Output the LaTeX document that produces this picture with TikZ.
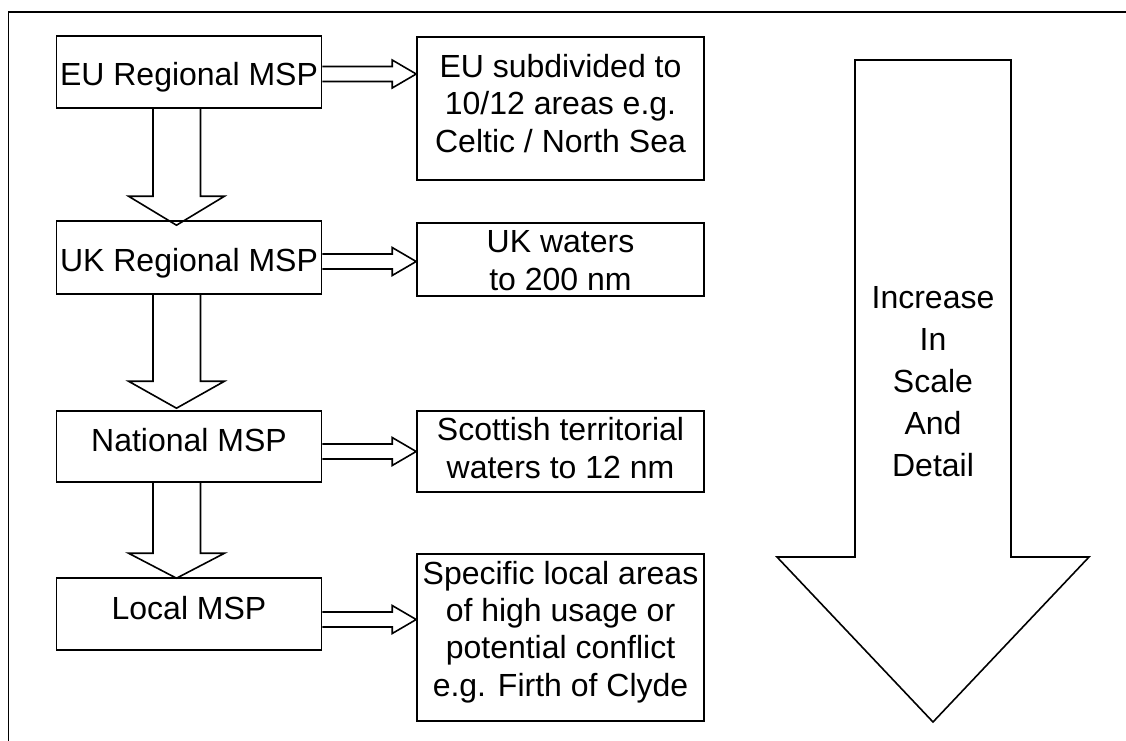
\documentclass[tikz,border=0pt]{standalone}
\usepackage{fontspec}
\setmainfont{Liberation Sans}
\usetikzlibrary{calc}
\newcommand\hblockarrow[3]{%
  \draw[blk] ($(#1.east)+(0,#3-7.5)$) -- ($(#2.west |- #1.east)+(-24,#3-7.5)$)
    -- ($(#2.west |- #1.east)+(-24,#3-14)$) -- ($(#2.west |- #1.east)+(0,#3)$)
    -- ($(#2.west |- #1.east)+(-24,#3+14)$) -- ($(#2.west |- #1.east)+(-24,#3+7.5)$)
    -- ($(#1.east)+(0,#3+7.5)$);}
\newcommand\vblockarrow[4]{%
  \draw[blk] ($(#1.south)+(-36,0)$) -- ($(#2.north)+(-36,#4-#3)$)
    -- ($(#2.north)+(-60.5,#4-#3)$) -- ($(#2.north)+(-12.5,#4)$)
    -- ($(#2.north)+(35.5,#4-#3)$) -- ($(#2.north)+(11.5,#4-#3)$)
    -- ($(#1.south)+(11.5,0)$);}
\begin{document}
\begin{tikzpicture}[x=1pt,y=-1pt,
  lw/.style={line width=1.6pt},
  txt/.style={font=\fontsize{32}{37.3}\selectfont},
  box/.style={draw, lw, align=center, inner sep=0pt, txt},
  lbox/.style={box, minimum width=265pt},
  rbox/.style={box, minimum width=287pt, text depth=0pt},
  blk/.style={draw, lw, line join=miter}]
\useasboundingbox (0,0) rectangle (1126,740);
\draw[lw] (8.5,745) -- (8.5,12) -- (1130,12);

\node[lbox, minimum height=72pt, text height=26pt, text depth=0pt] (eu)  at (189,72)    {EU Regional MSP};
\node[lbox, minimum height=73pt, text height=27pt, text depth=0pt] (uk)  at (189,257.5) {UK Regional MSP};
\node[lbox, minimum height=71pt, text height=23pt, text depth=14pt] (nat) at (189,446.5) {National MSP};
\node[lbox, minimum height=72pt, text height=23pt, text depth=13pt] (loc) at (189,614)   {Local MSP};

\node[rbox, minimum height=143pt, text height=87pt] (r1) at (560.5,108.5) {EU subdivided to\\10/12 areas e.g.\\Celtic / North Sea};
\node[rbox, minimum height=73pt, text height=61pt]  (r2) at (560.5,259.5) {UK waters\\to 200 nm};
\node[rbox, minimum height=81pt, text height=53pt]  (r3) at (560.5,451.5) {Scottish territorial\\waters to 12 nm};
\node[rbox, minimum height=167pt, text height=117pt] (r4) at (560.5,637.5) {Specific local areas\\of high usage or\\potential conflict\\e.g. Firth of Clyde};

\vblockarrow{eu}{uk}{29}{5}
\vblockarrow{uk}{nat}{27}{-2}
\vblockarrow{nat}{loc}{25}{1}

\hblockarrow{eu}{r1}{2}
\hblockarrow{uk}{r2}{4}
\hblockarrow{nat}{r3}{5}
\hblockarrow{loc}{r4}{5.5}

\draw[blk] (855,60) -- (1011,60) -- (1011,557) -- (1089,557) -- (933,722)
  -- (777,557) -- (855,557) -- cycle;
\node[align=center, font=\fontsize{32}{42}\selectfont] (scale) at (933,382)
  {Increase\\In\\Scale\\And\\Detail};
\end{tikzpicture}
\end{document}
